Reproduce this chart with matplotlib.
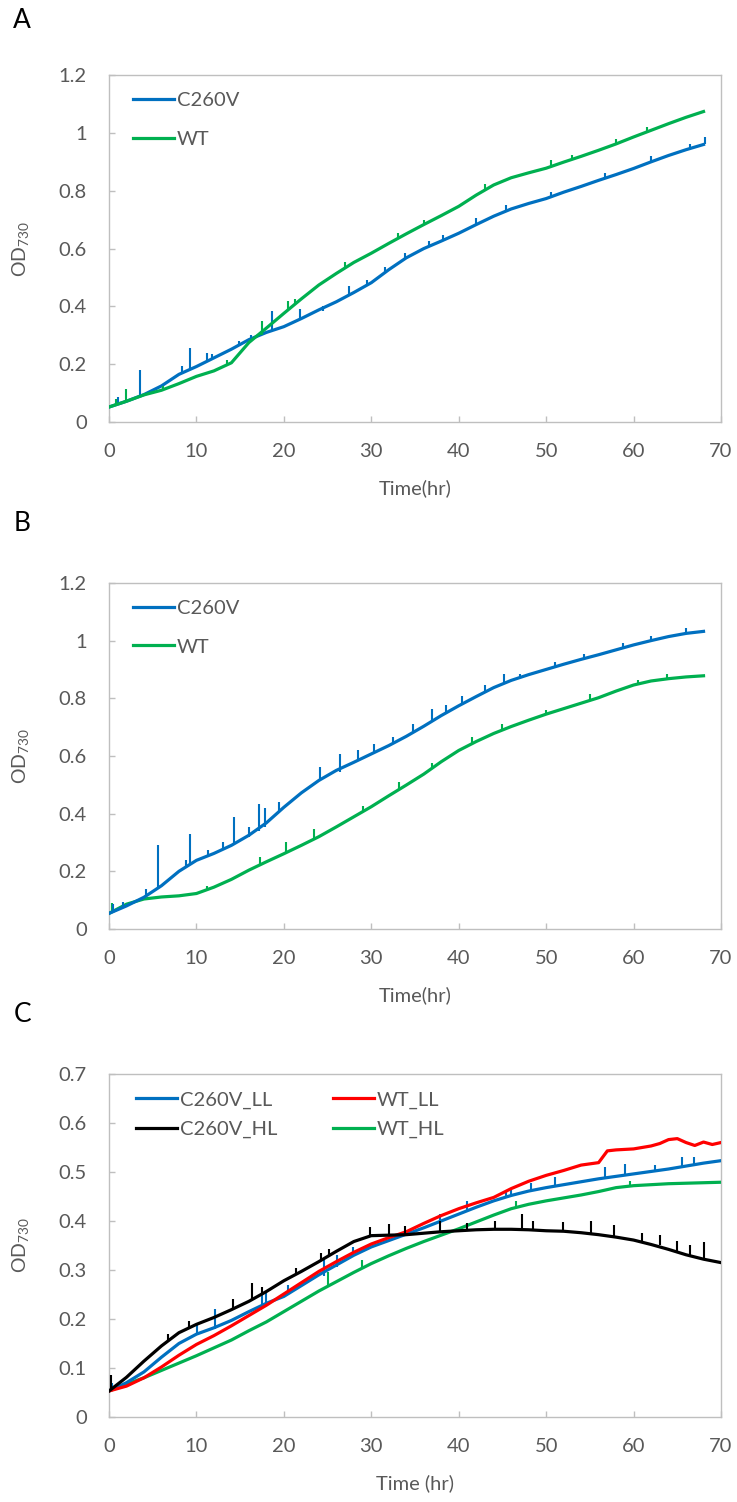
import matplotlib
matplotlib.use("Agg")
import matplotlib.pyplot as plt
from matplotlib.ticker import FuncFormatter

plt.rcParams["font.family"] = ["Lato", "DejaVu Sans"]
plt.rcParams["mathtext.fontset"] = "custom"
plt.rcParams["mathtext.rm"] = "Lato"
plt.rcParams["mathtext.default"] = "regular"

# ─── Colors ──────────────────────────────────────────────────────────────────

BLUE  = "#0070C0"
GREEN = "#00B050"
RED   = "#FF0000"
BLACK = "#000000"
TXT   = "#595959"
GRID  = "#BFBFBF"

# ─── Data ────────────────────────────────────────────────────────────────────

t_ab = list(range(0, 69, 2))

a_c260v = [0.052, 0.072, 0.095, 0.125, 0.165, 0.192, 0.222, 0.252, 0.285, 0.310,
           0.330, 0.358, 0.388, 0.416, 0.448, 0.482, 0.527, 0.568, 0.600, 0.626,
           0.653, 0.683, 0.712, 0.737, 0.756, 0.773, 0.795, 0.815, 0.836, 0.856,
           0.877, 0.900, 0.922, 0.942, 0.960]
a_wt    = [0.052, 0.072, 0.094, 0.110, 0.133, 0.158, 0.177, 0.205, 0.275, 0.325,
           0.376, 0.426, 0.474, 0.514, 0.552, 0.584, 0.618, 0.651, 0.683, 0.714,
           0.746, 0.785, 0.820, 0.845, 0.862, 0.878, 0.899, 0.919, 0.940, 0.962,
           0.986, 1.009, 1.032, 1.054, 1.074]

b_c260v = [0.054, 0.080, 0.110, 0.150, 0.200, 0.238, 0.262, 0.290, 0.325, 0.368,
           0.422, 0.472, 0.515, 0.550, 0.578, 0.607, 0.636, 0.668, 0.703, 0.740,
           0.774, 0.806, 0.837, 0.862, 0.882, 0.900, 0.918, 0.935, 0.951, 0.968,
           0.985, 1.000, 1.014, 1.025, 1.032]
b_wt    = [0.054, 0.086, 0.104, 0.111, 0.115, 0.123, 0.145, 0.172, 0.204, 0.233,
           0.261, 0.290, 0.320, 0.354, 0.389, 0.424, 0.462, 0.499, 0.537, 0.580,
           0.619, 0.650, 0.678, 0.702, 0.724, 0.745, 0.764, 0.783, 0.802, 0.825,
           0.846, 0.860, 0.868, 0.874, 0.878]

t_c = list(range(0, 71, 2))
t_c_red = list(range(0, 57, 2)) + list(range(57, 71))

c_c260v_ll = [0.053, 0.070, 0.092, 0.122, 0.150, 0.169, 0.182, 0.197, 0.215, 0.232,
              0.246, 0.268, 0.290, 0.310, 0.330, 0.347, 0.360, 0.373, 0.386, 0.400,
              0.414, 0.428, 0.441, 0.452, 0.461, 0.468, 0.474, 0.480, 0.486, 0.491,
              0.496, 0.501, 0.506, 0.512, 0.518, 0.523]
c_c260v_hl = [0.053, 0.081, 0.114, 0.145, 0.172, 0.189, 0.203, 0.219, 0.236, 0.256,
              0.278, 0.297, 0.317, 0.338, 0.358, 0.370, 0.371, 0.372, 0.375, 0.378,
              0.380, 0.382, 0.383, 0.383, 0.382, 0.380, 0.379, 0.376, 0.372, 0.367,
              0.361, 0.352, 0.342, 0.331, 0.322, 0.315]
c_wt_ll    = [0.053, 0.063, 0.080, 0.102, 0.126, 0.148, 0.166, 0.186, 0.207, 0.228,
              0.251, 0.274, 0.297, 0.317, 0.336, 0.353, 0.366, 0.378, 0.395, 0.411,
              0.425, 0.437, 0.448, 0.466, 0.481, 0.493, 0.503, 0.514, 0.519,
              0.543, 0.545, 0.546, 0.547, 0.550, 0.553, 0.558, 0.566, 0.568, 0.560,
              0.554, 0.561, 0.556, 0.560]
c_wt_hl    = [0.053, 0.067, 0.080, 0.095, 0.110, 0.125, 0.141, 0.157, 0.176, 0.194,
              0.215, 0.236, 0.257, 0.276, 0.295, 0.313, 0.329, 0.344, 0.358, 0.371,
              0.384, 0.398, 0.412, 0.425, 0.434, 0.441, 0.447, 0.453, 0.460, 0.468,
              0.472, 0.474, 0.476, 0.477, 0.478, 0.479]

# spikes: (time, base, top)
a_c260v_spk = [(1.0, 0.062, 0.085), (3.6, 0.092, 0.180), (8.3, 0.170, 0.195),
               (9.3, 0.185, 0.255), (11.2, 0.210, 0.240), (11.8, 0.218, 0.235),
               (14.9, 0.262, 0.280), (16.2, 0.278, 0.300), (18.7, 0.318, 0.385),
               (21.8, 0.355, 0.390), (24.5, 0.384, 0.400), (27.5, 0.440, 0.470),
               (29.5, 0.475, 0.490), (31.6, 0.518, 0.535), (33.9, 0.565, 0.585),
               (36.6, 0.608, 0.625), (38.2, 0.630, 0.648), (42.0, 0.683, 0.705),
               (45.4, 0.730, 0.752), (50.6, 0.779, 0.795), (56.7, 0.842, 0.860),
               (62.0, 0.900, 0.920), (66.5, 0.946, 0.960), (68.2, 0.960, 0.985)]
a_wt_spk    = [(0.8, 0.058, 0.080), (1.9, 0.070, 0.115), (6.2, 0.110, 0.125),
               (13.5, 0.198, 0.215), (17.5, 0.300, 0.350), (20.5, 0.388, 0.420),
               (21.3, 0.405, 0.425), (27.0, 0.533, 0.555), (33.0, 0.635, 0.655),
               (36.0, 0.683, 0.700), (43.0, 0.803, 0.825), (50.6, 0.884, 0.905),
               (53.0, 0.909, 0.925), (58.0, 0.962, 0.980), (61.5, 1.003, 1.020)]
b_c260v_spk = [(0.5, 0.060, 0.085), (1.6, 0.077, 0.092), (4.2, 0.113, 0.140),
               (5.6, 0.142, 0.290), (8.8, 0.212, 0.240), (9.3, 0.225, 0.330),
               (11.3, 0.252, 0.275), (13.0, 0.276, 0.300), (14.3, 0.295, 0.390),
               (16.0, 0.318, 0.355), (17.1, 0.340, 0.434), (17.8, 0.355, 0.420),
               (19.5, 0.408, 0.440), (24.1, 0.518, 0.560), (26.4, 0.546, 0.606),
               (28.5, 0.585, 0.620), (30.3, 0.612, 0.640), (32.5, 0.643, 0.665),
               (34.8, 0.682, 0.710), (37.0, 0.722, 0.762), (38.5, 0.750, 0.775),
               (40.4, 0.780, 0.808), (43.0, 0.822, 0.845), (45.2, 0.852, 0.883),
               (47.0, 0.870, 0.885), (51.0, 0.909, 0.925), (54.3, 0.938, 0.955),
               (58.8, 0.975, 0.990), (62.0, 1.000, 1.015), (66.0, 1.025, 1.045)]
b_wt_spk    = [(0.4, 0.060, 0.090), (11.2, 0.135, 0.150), (17.3, 0.222, 0.250),
               (20.3, 0.265, 0.300), (23.5, 0.312, 0.345), (29.0, 0.406, 0.425),
               (33.2, 0.484, 0.510), (37.0, 0.558, 0.575), (41.5, 0.642, 0.665),
               (45.0, 0.692, 0.712), (50.0, 0.745, 0.760), (55.0, 0.792, 0.815),
               (60.5, 0.850, 0.865), (63.8, 0.867, 0.885)]
c_hl_spk    = [(0.2, 0.055, 0.085), (6.7, 0.155, 0.170), (9.2, 0.182, 0.195),
               (14.2, 0.222, 0.240), (16.3, 0.240, 0.274), (17.5, 0.251, 0.265),
               (21.4, 0.291, 0.305), (24.3, 0.320, 0.335), (25.2, 0.328, 0.342),
               (29.8, 0.370, 0.387), (32.0, 0.371, 0.394), (33.8, 0.372, 0.390),
               (37.9, 0.378, 0.400), (41.0, 0.381, 0.395), (44.2, 0.383, 0.400),
               (47.2, 0.383, 0.414), (48.5, 0.382, 0.400), (51.9, 0.379, 0.398),
               (55.1, 0.374, 0.400), (57.8, 0.367, 0.392), (61.0, 0.357, 0.375),
               (63.0, 0.351, 0.372), (65.0, 0.336, 0.360), (66.4, 0.329, 0.350),
               (68.0, 0.322, 0.358)]
c_ll_spk    = [(0.4, 0.055, 0.070), (10.1, 0.170, 0.190), (12.1, 0.180, 0.220),
               (17.5, 0.230, 0.255), (18.0, 0.232, 0.258), (20.5, 0.250, 0.270),
               (24.6, 0.288, 0.320), (26.1, 0.306, 0.330), (27.9, 0.329, 0.346),
               (37.9, 0.400, 0.415), (41.0, 0.421, 0.440), (45.4, 0.449, 0.460),
               (46.0, 0.452, 0.468), (48.3, 0.462, 0.478), (51.0, 0.471, 0.490),
               (56.7, 0.487, 0.510), (59.0, 0.493, 0.516), (62.5, 0.502, 0.515),
               (65.5, 0.510, 0.530), (66.9, 0.515, 0.530)]
c_wthl_spk  = [(25.0, 0.270, 0.295), (28.9, 0.305, 0.320), (46.5, 0.428, 0.440),
               (59.6, 0.471, 0.482)]


# ─── Helpers ─────────────────────────────────────────────────────────────────

def style_axes(ax, ymax, ystep, xlabel):
    ax.set_xlim(0, 70)
    ax.set_ylim(0, ymax)
    ax.set_xticks(range(0, 71, 10))
    n = int(round(ymax / ystep))
    ax.set_yticks([i * ystep for i in range(n + 1)])
    ax.yaxis.set_major_formatter(FuncFormatter(lambda v, p: f"{v:g}"))
    for spine in ax.spines.values():
        spine.set_edgecolor(GRID)
        spine.set_linewidth(1.0)
    ax.tick_params(axis="both", direction="in", length=4, width=1,
                   color=GRID, labelcolor=TXT, labelsize=14.5)
    ax.tick_params(axis="x", pad=15)
    ax.tick_params(axis="y", pad=16)
    ax.set_xlabel(xlabel, color=TXT, fontsize=14.5, labelpad=14)
    ax.set_ylabel("OD$_{730}$", color=TXT, fontsize=14)
    ax.yaxis.set_label_coords(-0.127, 0.5)


def draw(ax, t, y, spikes, color, label):
    ax.plot(t, y, color=color, linewidth=2.3, label=label, zorder=3,
            solid_joinstyle="round")
    if spikes:
        ax.vlines([s[0] for s in spikes], [s[1] for s in spikes],
                  [s[2] for s in spikes], color=color, linewidth=1.5, zorder=3)


# ─── Figure ──────────────────────────────────────────────────────────────────

fig = plt.figure(figsize=(7.37, 15.02), dpi=100, facecolor="white")

ax_a = fig.add_axes([0.1479, 0.7190, 0.8304, 0.2310])
ax_b = fig.add_axes([0.1479, 0.3815, 0.8304, 0.2304])
ax_c = fig.add_axes([0.1479, 0.0566, 0.8304, 0.2284])

draw(ax_a, t_ab, a_c260v, a_c260v_spk, BLUE, "C260V")
draw(ax_a, t_ab, a_wt, a_wt_spk, GREEN, "WT")
style_axes(ax_a, 1.2, 0.2, "Time(hr)")

draw(ax_b, t_ab, b_wt, b_wt_spk, GREEN, "WT")
draw(ax_b, t_ab, b_c260v, b_c260v_spk, BLUE, "C260V")
style_axes(ax_b, 1.2, 0.2, "Time(hr)")

draw(ax_c, t_c, c_wt_hl, c_wthl_spk, GREEN, "WT_HL")
draw(ax_c, t_c, c_c260v_ll, c_ll_spk, BLUE, "C260V_LL")
draw(ax_c, t_c_red, c_wt_ll, None, RED, "WT_LL")
draw(ax_c, t_c, c_c260v_hl, c_hl_spk, BLACK, "C260V_HL")
style_axes(ax_c, 0.7, 0.1, "Time (hr)")

# legends
for ax in (ax_a, ax_b):
    h, l = ax.get_legend_handles_labels()
    order = [l.index("C260V"), l.index("WT")]
    ax.legend([h[i] for i in order], [l[i] for i in order],
              loc="upper left", bbox_to_anchor=(0.02, 0.985), frameon=False,
              fontsize=14.5, labelcolor=TXT, handlelength=2.0, handletextpad=0.15,
              labelspacing=1.05, borderaxespad=0.2)

h, l = ax_c.get_legend_handles_labels()
order = [l.index(n) for n in ("C260V_LL", "C260V_HL", "WT_LL", "WT_HL")]
ax_c.legend([h[i] for i in order], [l[i] for i in order], ncol=2,
            loc="upper left", bbox_to_anchor=(0.025, 0.985), frameon=False,
            fontsize=14.5, labelcolor=TXT, handlelength=2.0, handletextpad=0.15,
            labelspacing=0.6, columnspacing=2.8, borderaxespad=0.2)

# panel letters
for y, letter in [(0.995, "A"), (0.660, "B"), (0.333, "C")]:
    fig.text(0.018, y, letter, fontsize=19, color="black", va="top", ha="left")

fig.savefig("out.png", dpi=100, facecolor="white")
